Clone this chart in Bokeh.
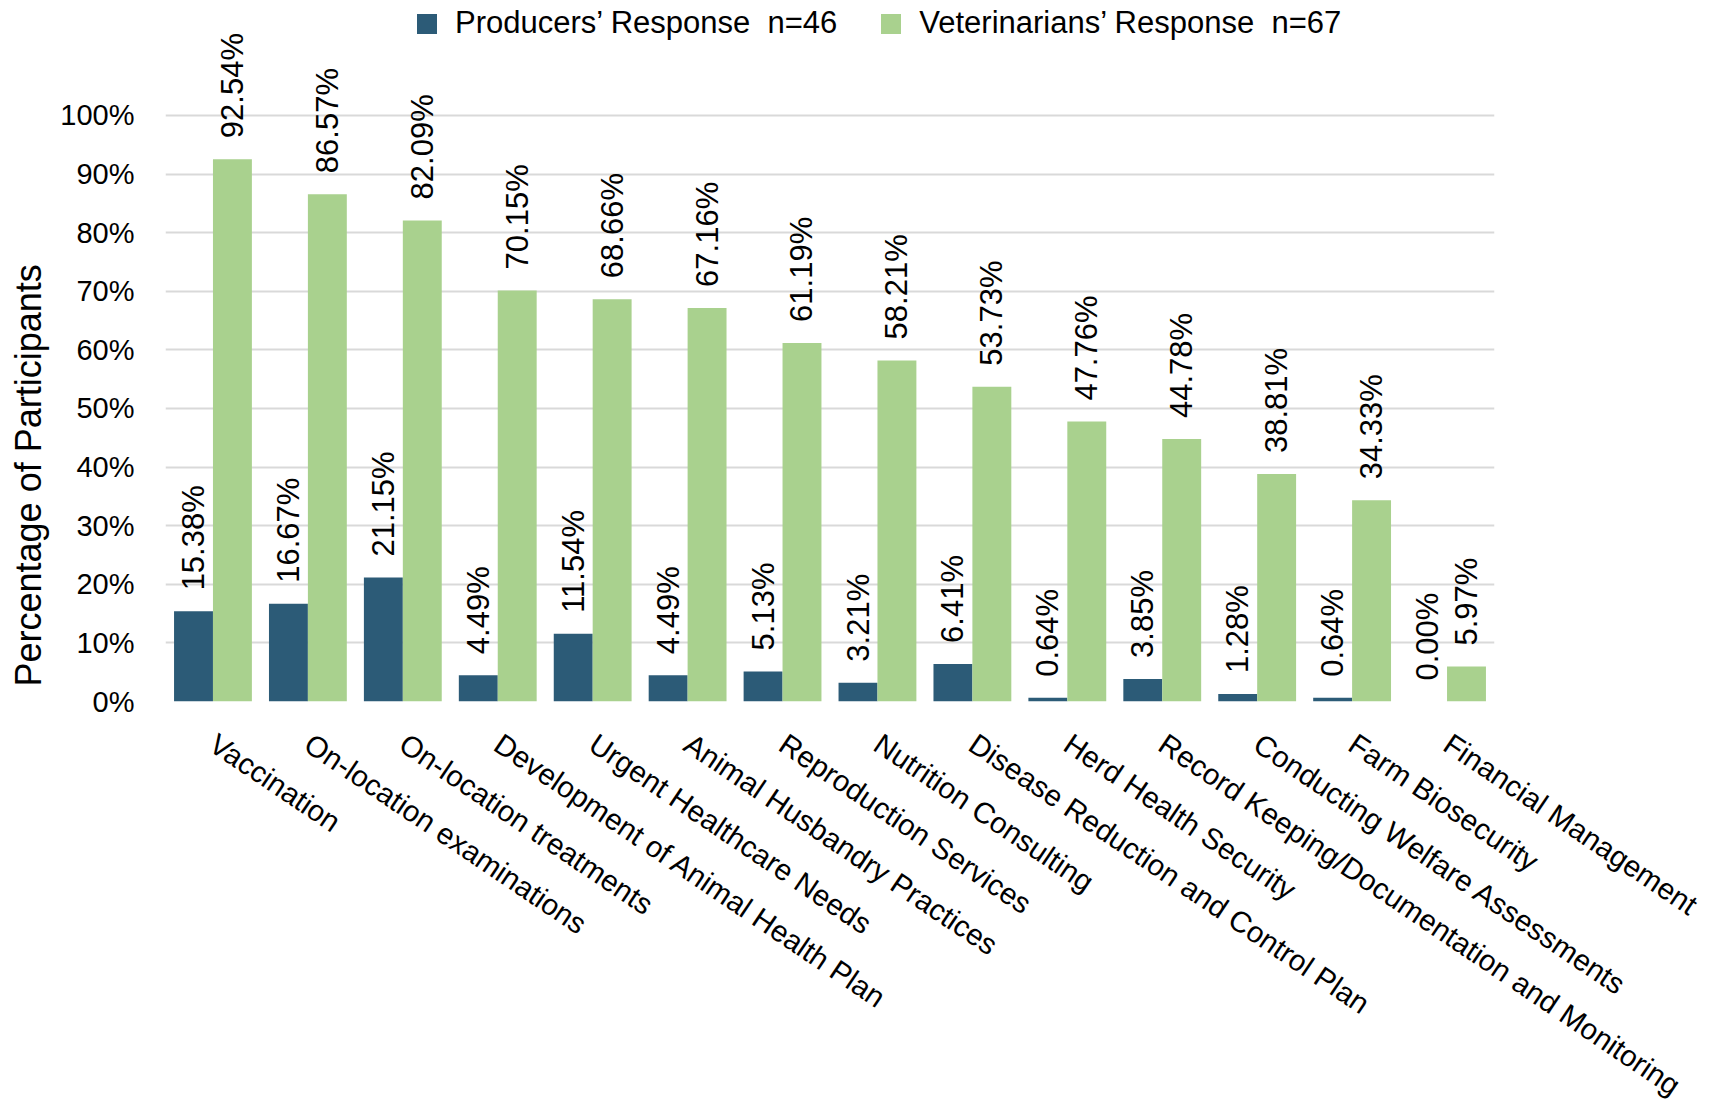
import math
from bokeh.plotting import figure
from bokeh.models import (ColumnDataSource, FactorRange, Range1d, FixedTicker,
                          Legend, LegendItem, Title)
from bokeh.transform import dodge
from bokeh.core.properties import value
from bokeh.embed import file_html
from bokeh.resources import INLINE

categories = ["Vaccination", "On-location examinations", "On-location treatments",
              "Development of Animal Health Plan", "Urgent Healthcare Needs",
              "Animal Husbandry Practices", "Reproduction Services", "Nutrition Consulting",
              "Disease Reduction and Control Plan", "Herd Health Security",
              "Record Keeping/Documentation and Monitoring", "Conducting Welfare Assessments",
              "Farm Biosecurity", "Financial Management"]
producers = [15.38, 16.67, 21.15, 4.49, 11.54, 4.49, 5.13, 3.21, 6.41, 0.64, 3.85, 1.28, 0.64, 0.00]
veterinarians = [92.54, 86.57, 82.09, 70.15, 68.66, 67.16, 61.19, 58.21, 53.73, 47.76, 44.78, 38.81, 34.33, 5.97]
y_ticks = [0, 10, 20, 30, 40, 50, 60, 70, 80, 90, 100]
y_tick_labels = ["0%", "10%", "20%", "30%", "40%", "50%", "60%", "70%", "80%", "90%", "100%"]
legend_labels = ["Producers\u2019 Response  n=46", "Veterinarians\u2019 Response  n=67"]
y_title = "Percentage of Participants"

DARK = "#2c5b77"
GREEN = "#a9d18e"
FONT = "Liberation Sans"

src = ColumnDataSource(dict(
    cat=categories,
    prod=producers,
    vet=veterinarians,
    prod_lbl=["%.2f%%" % v for v in producers],
    vet_lbl=["%.2f%%" % v for v in veterinarians],
))

p = figure(x_range=FactorRange(*categories, range_padding=0),
           y_range=Range1d(0, 119.62),
           frame_width=1329, frame_height=701,
           min_border_left=163, min_border_right=213,
           min_border_top=0, min_border_bottom=390,
           output_backend="svg", toolbar_location=None,
           background_fill_color="white", border_fill_color="white")
p.outline_line_color = None

BW = 0.41
r_prod = p.vbar(x=dodge("cat", -0.205, range=p.x_range), top="prod", width=BW,
                source=src, fill_color=DARK, line_color=None)
r_vet = p.vbar(x=dodge("cat", 0.205, range=p.x_range), top="vet", width=BW,
               source=src, fill_color=GREEN, line_color=None)

for col, off, ycol in (("prod_lbl", -0.205, "prod"), ("vet_lbl", 0.205, "vet")):
    p.text(x=dodge("cat", off, range=p.x_range), y=ycol, text=col, source=src,
           angle=math.pi / 2, text_align="left", text_baseline="middle",
           y_offset=-21, text_font=value(FONT), text_font_size="31px",
           text_color="#000000")

# axes
p.yaxis.ticker = FixedTicker(ticks=y_ticks)
p.yaxis.major_label_overrides = {t: l for t, l in zip(y_ticks, y_tick_labels)}
p.yaxis.axis_line_color = None
p.yaxis.major_tick_line_color = None
p.yaxis.minor_tick_line_color = None
p.yaxis.major_tick_out = 0
p.yaxis.major_tick_in = 0
p.yaxis.major_label_standoff = 31
p.yaxis.major_label_text_font = FONT
p.yaxis.major_label_text_font_size = "29px"
p.yaxis.major_label_text_color = "#000000"

p.xaxis.axis_line_color = None
p.xaxis.major_tick_line_color = None
p.xaxis.minor_tick_line_color = None
p.xaxis.major_tick_out = 0
p.xaxis.major_tick_in = 0
p.xaxis.major_label_orientation = -34 * math.pi / 180
p.xaxis.major_label_standoff = 39
p.xaxis.major_label_text_font = FONT
p.xaxis.major_label_text_font_size = "29.5px"
p.xaxis.major_label_text_color = "#000000"

p.xgrid.grid_line_color = None
p.ygrid.grid_line_color = "#d9d9d9"
p.ygrid.grid_line_width = 2
p.ygrid.ticker = FixedTicker(ticks=y_ticks)

ttl = Title(text=y_title, align="left", offset=15, standoff=14, vertical_align="top",
            text_font=FONT, text_font_size="36px", text_font_style="normal",
            text_color="#000000")
p.add_layout(ttl, "left")

legend = Legend(items=[LegendItem(label=legend_labels[0], renderers=[r_prod]),
                       LegendItem(label=legend_labels[1], renderers=[r_vet])],
                location=(249, 660), orientation="horizontal",
                glyph_width=25, glyph_height=25, label_standoff=16, spacing=41,
                padding=0, margin=0, border_line_color=None,
                background_fill_alpha=0,
                label_text_font=FONT, label_text_font_size="31px",
                label_text_color="#000000")
p.add_layout(legend)

open("out.html", "w").write(file_html(p, INLINE))
